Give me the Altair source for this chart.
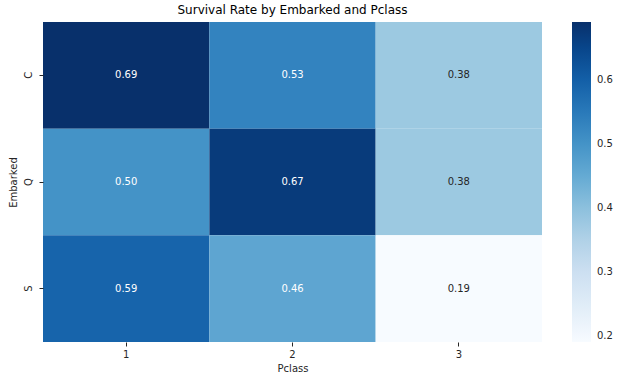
import altair as alt
import pandas as pd

embarked = ["C", "Q", "S"]
pclass = ["1", "2", "3"]
rates = [
    [0.69, 0.53, 0.38],
    [0.50, 0.67, 0.38],
    [0.59, 0.46, 0.19],
]
legend_ticks = [0.2, 0.3, 0.4, 0.5, 0.6]
blues = ["#f7fbff", "#deebf7", "#c6dbef", "#9ecae1", "#6baed6",
         "#4292c6", "#2171b5", "#08519c", "#08306b"]

rows = []
for i, e in enumerate(embarked):
    for j, p in enumerate(pclass):
        rows.append({"Embarked": e, "Pclass": p, "rate": rates[i][j],
                     "label": f"{rates[i][j]:.2f}"})
df = pd.DataFrame(rows)

vmin = min(min(r) for r in rates)
vmax = max(max(r) for r in rates)
n = len(blues)
domain = [vmin + (vmax - vmin) * k / (n - 1) for k in range(n)]

FONT = "DejaVu Sans"

base = alt.Chart(df).encode(
    x=alt.X("Pclass:O", sort=pclass, title="Pclass",
            axis=alt.Axis(labelAngle=0, domain=False, tickSize=4, tickColor="#262626",
                          labelColor="#262626", titleColor="#262626",
                          labelFontSize=10, titleFontSize=10, titleFontWeight="normal",
                          labelPadding=3, titlePadding=4)),
    y=alt.Y("Embarked:O", sort=embarked, title="Embarked",
            axis=alt.Axis(labelAngle=-90, domain=False, tickSize=4, tickColor="#262626",
                          labelColor="#262626", titleColor="#262626",
                          labelFontSize=10, titleFontSize=10, titleFontWeight="normal",
                          labelPadding=11, titlePadding=5, labelBaseline="middle",
                          labelAlign="center")),
)

rect = base.mark_rect().encode(
    color=alt.Color("rate:Q",
                    scale=alt.Scale(domain=domain, range=blues, interpolate="rgb"),
                    legend=alt.Legend(title=None, orient="none", legendX=529, legendY=0,
                                      gradientLength=320, gradientThickness=19,
                                      values=legend_ticks, format=".1f",
                                      labelFontSize=10, labelColor="#262626",
                                      labelFont=FONT, gradientStrokeWidth=0,
                                      labelOffset=6, direction="vertical"))
)

text = base.mark_text(font=FONT, fontSize=10).encode(
    text="label:N",
    color=alt.condition(alt.datum.rate > 0.42, alt.value("white"), alt.value("#262626")),
)

chart = (rect + text).properties(
    width=499, height=320,
    title=alt.TitleParams("Survival Rate by Embarked and Pclass", fontSize=12,
                          font=FONT, fontWeight="normal", color="black", offset=5),
    autosize=alt.AutoSizeParams(type="none"),
    padding={"left": 43, "top": 22, "right": 80, "bottom": 34},
).configure_view(stroke=None).configure_axis(
    labelFont=FONT, titleFont=FONT, grid=False
).configure_scale(bandPaddingInner=0, bandPaddingOuter=0)

chart.save("out.html", embed_options={"renderer": "svg", "actions": False})
